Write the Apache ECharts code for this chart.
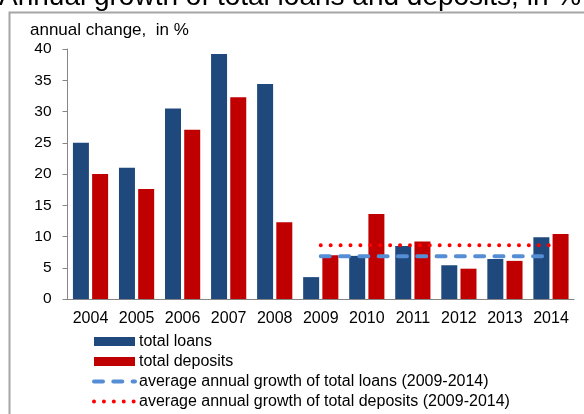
<!DOCTYPE html>
<html>
<head>
<meta charset="utf-8">
<script src="https://cdn.jsdelivr.net/npm/echarts@6/dist/echarts.min.js"></script>
<style>html,body{margin:0;padding:0;background:#fff}#c{width:584px;height:414px}</style>
</head>
<body>
<div id="c"></div>
<script>
const years = ['2004','2005','2006','2007','2008','2009','2010','2011','2012','2013','2014'];
const totalLoans = [25.0, 21.0, 30.5, 39.2, 34.4, 3.5, 6.9, 8.5, 5.4, 6.4, 9.9];
const totalDeposits = [20.0, 17.6, 27.1, 32.3, 12.3, 7.0, 13.6, 9.2, 4.85, 6.1, 10.4];
const avgLoans = [null, null, null, null, null, 6.85, 6.85, 6.85, 6.85, 6.85, 6.85];
const avgDeposits = [null, null, null, null, null, 8.6, 8.6, 8.6, 8.6, 8.6, 8.6];
const yTicks = { min: 0, max: 40, interval: 5 };

const FONT = 'Liberation Sans';
const hiddenSymbol = { color: 'rgba(0,0,0,0)', borderColor: 'rgba(0,0,0,0)', borderWidth: 0, opacity: 0 };
const chart = echarts.init(document.getElementById('c'), null, { renderer: 'canvas' });
chart.setOption({
  animation: false,
  backgroundColor: '#fff',
  title: {
    text: 'Annual growth of total loans and deposits, in %',
    left: -6, top: -22,
    textStyle: { fontFamily: FONT, fontSize: 28, fontWeight: 'normal', color: '#000' }
  },
  graphic: [
    { type: 'rect', left: 7, top: 10, shape: { width: 700, height: 700 },
      style: { fill: 'none', stroke: '#a6a6a6', lineWidth: 2 }, silent: true },
    { type: 'text', left: 30, top: 22,
      style: { text: 'annual change,  in %', font: '17px "Liberation Sans"', fill: '#000' } }
  ],
  grid: { left: 67.5, right: 10, top: 49, bottom: 115 },
  legend: {
    orient: 'vertical', left: 92, top: 333.5, padding: 0,
    itemWidth: 41, itemHeight: 9, itemGap: 4,
    textStyle: { fontFamily: FONT, fontSize: 16, lineHeight: 16, color: '#000', padding: [0,0,0,-1] },
    data: [
      { name: 'total loans', icon: 'rect' },
      { name: 'total deposits', icon: 'rect' },
      { name: 'average annual growth of total loans (2009-2014)', itemStyle: hiddenSymbol,
        lineStyle: { width: 4, color: '#558ED5', type: [9, 10.3], cap: 'round' } },
      { name: 'average annual growth of total deposits (2009-2014)', itemStyle: hiddenSymbol,
        lineStyle: { width: 4, color: '#FF0000', type: [0.01, 9.9], cap: 'round' } }
    ]
  },
  xAxis: {
    type: 'category', data: years,
    axisLine: { lineStyle: { color: '#868686', width: 1 } },
    axisTick: { show: false },
    axisLabel: { fontFamily: FONT, fontSize: 16, color: '#000', margin: 12, interval: 0, hideOverlap: false }
  },
  yAxis: {
    type: 'value', min: yTicks.min, max: yTicks.max, interval: yTicks.interval,
    axisLine: { show: true, lineStyle: { color: '#868686', width: 1 } },
    axisTick: { show: true, length: 5, lineStyle: { color: '#868686' } },
    splitLine: { show: false },
    axisLabel: { fontFamily: FONT, fontSize: 15.5, color: '#000', margin: 16 }
  },
  series: [
    { name: 'total loans', type: 'bar', data: totalLoans, barWidth: 16, barGap: '20%',
      itemStyle: { color: '#1F497D' } },
    { name: 'total deposits', type: 'bar', data: totalDeposits, barWidth: 16, barGap: '20%',
      itemStyle: { color: '#C00000' } },
    { name: 'average annual growth of total loans (2009-2014)', type: 'line', data: avgLoans,
      symbol: 'none', z: 5, color: '#558ED5',
      lineStyle: { color: '#558ED5', width: 4, type: [9, 10.3], cap: 'round' } },
    { name: 'average annual growth of total deposits (2009-2014)', type: 'line', data: avgDeposits,
      symbol: 'none', z: 5, color: '#FF0000',
      lineStyle: { color: '#FF0000', width: 4, type: [0.01, 9.9], cap: 'round' } }
  ]
});
</script>
</body>
</html>
